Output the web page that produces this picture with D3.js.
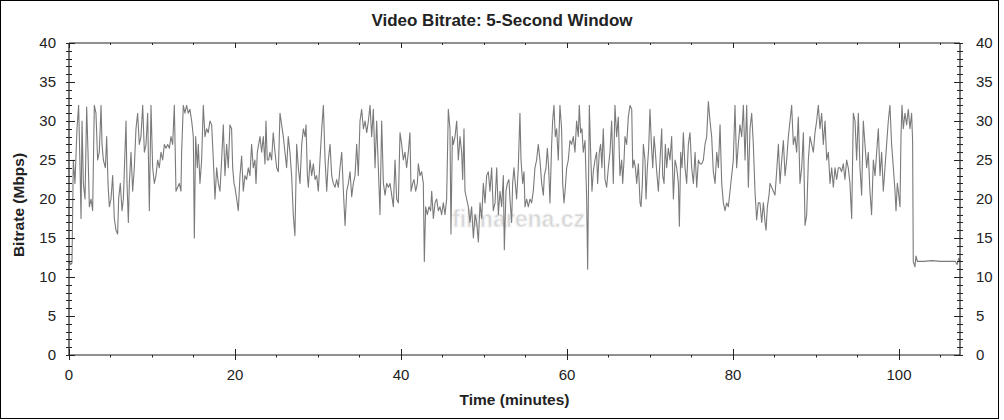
<!DOCTYPE html>
<html>
<head>
<meta charset="utf-8">
<script src="https://cdn.jsdelivr.net/npm/d3@7/dist/d3.min.js"></script>
<style>
html,body{margin:0;padding:0;background:#fff;}
svg{display:block;}
text{font-family:"Liberation Sans",Arial,sans-serif;}
</style>
</head>
<body>
<svg id="chart" width="1004" height="420"></svg>
<script>
// ---- data: [minute, Mbps] ----
const bitrateSamples = [
[0.0,12],[0.2,11.6],[0.36,11.8],[0.52,25],[0.72,22],[0.96,29],[1.16,32],[1.33,24],[1.45,17.5],[1.57,30],[1.73,22],[1.93,20],
[2.13,31.8],[2.29,26],[2.45,19],[2.65,20],[2.85,18.5],[3.05,32],[3.25,31],[3.45,25],[3.65,26],[3.86,32],[3.98,27],[4.14,25],
[4.38,24],[4.54,28],[4.70,22],[4.86,19],[5.06,20],[5.26,23],[5.46,17.5],[5.66,16],[5.86,15.5],[5.98,20],[6.18,22],[6.39,18.5],
[6.55,20],[6.71,25],[6.87,30],[6.99,22],[7.15,17],[7.27,22],[7.47,26],[7.67,21],[7.87,24],[8.07,29],[8.27,31],[8.47,27],
[8.67,28],[8.88,32],[9.08,26],[9.28,27],[9.48,31],[9.68,18.5],[9.88,32],[10.08,24],[10.28,22],[10.48,23],[10.68,25],[10.88,24],
[11.08,26],[11.29,25],[11.49,27],[11.69,26.5],[11.89,27],[12.09,26.5],[12.29,28],[12.49,27],[12.69,32],[12.89,21],[13.09,21.5],
[13.29,22],[13.49,21],[13.57,26],[13.77,32],[13.97,31],[14.17,32],[14.37,31],[14.57,31.5],[14.78,30],[14.98,28],[15.10,15],
[15.26,28],[15.46,24],[15.58,27],[15.78,22],[15.98,25],[16.18,32],[16.38,28],[16.58,29],[16.78,28.5],[16.98,30],[17.19,29.5],
[17.39,25],[17.59,20],[17.79,24],[17.99,22],[18.19,21],[18.39,25],[18.59,29.5],[18.79,23],[18.99,27],[19.19,24],[19.39,29.5],
[19.59,29],[19.72,24],[19.88,22],[20.0,21.5],[20.2,20],[20.4,18.5],[20.6,23],[20.8,25.5],[21.0,21],[21.2,23],[21.4,22.5],
[21.6,24],[21.8,23],[22.0,27],[22.2,24],[22.4,25],[22.53,22],[22.69,26],[22.85,27],[23.01,28],[23.21,26],[23.41,28],[23.61,24.5],
[23.73,30],[23.89,25],[24.05,25],[24.21,26],[24.41,25],[24.61,28.5],[24.82,26],[25.02,24],[25.22,23.5],[25.42,31],[25.62,29.5],
[25.82,28],[26.02,26],[26.22,24],[26.42,28],[26.62,26],[26.82,23],[27.02,18],[27.22,15.3],[27.43,27],[27.63,24],[27.83,22],
[28.04,27],[28.24,29],[28.44,28],[28.56,29.5],[28.72,23],[28.84,21.5],[29.04,25],[29.24,23],[29.44,24.5],[29.64,22.5],[29.84,23],
[30.04,21],[30.24,25],[30.45,29],[30.65,32],[30.85,25],[31.05,21],[31.25,25],[31.45,27],[31.65,23],[31.85,22],[32.05,21.5],
[32.25,22.5],[32.45,21.5],[32.65,24],[32.86,26],[33.06,21],[33.26,16.6],[33.46,21],[33.66,22],[33.86,23.5],[34.06,20.3],
[34.26,22],[34.46,23],[34.66,27],[34.86,23],[35.06,30],[35.26,31.5],[35.47,29],[35.67,30],[35.87,28.5],[36.07,30],[36.27,32],
[36.47,28],[36.67,31.5],[36.87,24],[37.07,30],[37.27,24],[37.47,18],[37.67,30],[37.88,22],[38.08,20.5],[38.28,22],[38.48,21.5],
[38.68,22],[38.88,20.5],[39.08,19],[39.28,25],[39.48,20],[39.68,19.5],[39.88,28.5],[40.08,27],[40.28,25],[40.48,26],[40.68,24],
[40.88,26],[41.08,28.5],[41.21,21],[41.41,22],[41.57,22.5],[41.77,21],[41.97,22],[42.09,24.5],[42.29,23],[42.49,23.5],[42.69,22],
[42.81,12],[42.97,19],[43.17,18],[43.37,19],[43.57,18.5],[43.70,21],[43.90,17.5],[44.10,19.5],[44.30,20],[44.50,18.5],[44.70,19],
[44.90,18],[45.10,19.5],[45.30,18],[45.50,20],[45.70,31.5],[45.90,29],[46.02,15.5],[46.19,28],[46.31,27],[46.51,28],[46.71,30],
[46.91,25],[47.11,28],[47.31,26],[47.43,22.5],[47.59,29],[47.71,21],[47.91,20],[48.11,19],[48.31,17],[48.51,19],[48.72,15],
[48.92,18],[49.12,17],[49.32,14.5],[49.52,19.5],[49.72,17.5],[49.92,22],[50.12,19.5],[50.32,23],[50.52,23.5],[50.72,21],
[50.92,24],[51.12,18.5],[51.33,19.5],[51.53,24],[51.73,18],[51.93,21],[52.13,19],[52.33,23],[52.45,13.5],[52.65,21],[52.81,22],
[53.0,22.5],[53.13,20],[53.33,17],[53.45,22],[53.61,24],[53.73,22.5],[53.93,20],[54.13,24],[54.33,31],[54.46,25],[54.66,22],
[54.82,23.5],[54.94,19],[55.14,20],[55.34,19],[55.54,20],[55.74,19.5],[55.94,21],[56.14,24],[56.34,25],[56.54,27],[56.74,25],
[56.95,22],[57.15,20.5],[57.27,23],[57.47,24],[57.63,26.5],[57.79,24],[57.95,19.5],[58.15,27],[58.27,30],[58.43,32],[58.59,28],
[58.75,29],[58.95,25],[59.15,32],[59.35,29],[59.48,22],[59.64,19.5],[59.80,21.5],[59.96,24],[60.16,25],[60.36,27.5],[60.56,27],
[60.76,28],[60.96,26],[61.16,30],[61.36,28],[61.48,32],[61.64,28.5],[61.80,29],[61.96,26],[62.17,27.5],[62.37,20],[62.49,11],
[62.69,32],[62.85,26],[63.01,21],[63.17,23.5],[63.37,25],[63.57,26],[63.69,22],[63.89,26],[64.05,27],[64.21,24],[64.37,29],
[64.58,22.5],[64.78,21.5],[64.98,24],[65.18,26],[65.38,30],[65.58,22],[65.78,32],[65.98,28],[66.18,30.5],[66.38,23],[66.59,25],
[66.71,22],[66.87,25],[66.99,28],[67.19,27],[67.39,30.5],[67.59,32],[67.80,31.5],[67.92,24],[68.08,25],[68.24,24],[68.40,22],
[68.60,24.5],[68.80,19.5],[68.92,19],[69.08,22],[69.20,27],[69.40,25],[69.52,20],[69.68,24],[69.84,26.5],[70.00,31.5],[70.17,27],
[70.33,24],[70.49,28],[70.65,26],[70.81,23.5],[71.01,21],[71.21,25],[71.41,29],[71.53,23],[71.69,22],[71.85,27],[72.01,24],
[72.21,26.5],[72.41,25],[72.61,28],[72.82,20],[73.02,25],[73.22,24],[73.42,22],[73.54,16.5],[73.70,26],[73.86,24],[74.02,28.5],
[74.22,24],[74.42,22],[74.62,27],[74.82,28.5],[75.02,24],[75.23,22],[75.43,26],[75.63,21.5],[75.83,25],[76.03,24.5],[76.23,24.5],
[76.43,25],[76.63,27],[76.83,28],[77.03,32.5],[77.23,30],[77.43,28],[77.63,23.5],[77.84,22],[78.04,26],[78.24,24],[78.44,29.5],
[78.64,22],[78.84,19.5],[79.04,18.5],[79.24,19.5],[79.44,19],[79.64,21],[79.84,23],[80.04,25],[80.24,32],[80.44,24],[80.64,27],
[80.84,29.5],[81.05,28],[81.25,32],[81.45,25],[81.65,32],[81.85,21.5],[82.05,29],[82.25,31],[82.45,27],[82.65,21],[82.85,17.3],
[83.05,19.5],[83.25,19.5],[83.46,17],[83.66,19.5],[83.86,17],[83.98,16],[84.14,19],[84.34,20.5],[84.46,22],[84.66,21.5],[84.86,21],
[85.06,20.5],[85.26,23.5],[85.47,27],[85.67,22],[85.87,25],[86.07,27.5],[86.27,23],[86.47,25],[86.67,28],[86.87,30],[87.07,32],
[87.27,27],[87.47,28],[87.67,26],[87.87,30.5],[88.07,22],[88.28,24],[88.48,28.5],[88.68,16.6],[88.88,18],[89.08,25],[89.28,28],
[89.48,27],[89.68,26],[89.88,28.5],[90.08,30],[90.28,32],[90.48,29],[90.68,31],[90.88,27],[91.09,30],[91.29,25],[91.49,26],
[91.69,22],[91.89,24],[92.09,21.5],[92.29,24],[92.49,22.5],[92.69,24],[92.89,24],[93.09,23.5],[93.29,24.5],[93.49,22.5],[93.69,25],
[93.89,24],[94.09,22],[94.30,17.5],[94.50,31],[94.70,30],[94.90,25],[95.10,31],[95.30,24],[95.50,20.5],[95.70,30],[95.90,27],
[96.10,24],[96.30,26],[96.50,21],[96.70,18],[96.91,25],[97.11,23],[97.31,26],[97.51,29],[97.71,23],[97.91,26],[98.11,21],
[98.31,24],[98.51,27],[98.71,30],[98.91,32],[99.11,27],[99.32,24],[99.52,21],[99.64,18.5],[99.80,22],[99.92,21],[100.12,19],
[100.24,28],[100.36,32],[100.52,29],[100.72,31],[100.92,29.5],[101.12,31.5],[101.32,29],[101.52,31],[101.64,27.5],[101.72,12],
[101.92,11.3],[102.05,12.7],[102.21,12],[103.0,12],[104.0,12.1],[105.0,12],[106.0,12],[106.8,12],[107.0,11.6],[107.2,12.4],[107.35,12]
];
const yMajorTicks = [0,5,10,15,20,25,30,35,40];
const xMajorTicks = [0,20,40,60,80,100];
const titleText = "Video Bitrate: 5-Second Window";
const xTitle = "Time (minutes)";
const yTitle = "Bitrate (Mbps)";

// ---- layout ----
const plot = {left:69, right:960, top:43, bottom:355};
const svg = d3.select("#chart");

svg.append("rect").attr("x",0.5).attr("y",0.5).attr("width",998).attr("height",418)
  .attr("fill","#fff").attr("stroke","#000").attr("stroke-width",1);

const x = d3.scaleLinear().domain([0,107.35]).range([plot.left, plot.right]);
const y = d3.scaleLinear().domain([0,40]).range([plot.bottom, plot.top]);

const yMinor = d3.range(0,41,1);
const xMinor = d3.range(0,107.35,5);

// watermark (behind the line)
const wm = svg.append("g").attr("opacity",0.7);
wm.append("text").attr("x",452).attr("y",227).attr("font-size",23).attr("font-weight","bold")
  .attr("fill","#c4c4c4").attr("stroke","#eeeeee").attr("stroke-width",1).text("filmarena.cz");

// line
const line = d3.line().x(d=>x(d[0])).y(d=>y(d[1]));
svg.append("path").datum(bitrateSamples).attr("d",line)
  .attr("fill","none").attr("stroke","#7a7a7a").attr("stroke-width",1.1).attr("stroke-linejoin","round");

// axis frame lines
const axCol = "#222";
function hline(yy,x1,x2){svg.append("line").attr("x1",x1).attr("x2",x2).attr("y1",yy).attr("y2",yy).attr("stroke",axCol).attr("stroke-width",1.2);}
function vline(xx,y1,y2){svg.append("line").attr("x1",xx).attr("x2",xx).attr("y1",y1).attr("y2",y2).attr("stroke",axCol).attr("stroke-width",1.2);}
hline(plot.bottom, plot.left, plot.right);
hline(plot.top, plot.left, plot.right);
vline(plot.left, plot.top, plot.bottom);
vline(plot.right, plot.top, plot.bottom);

// y ticks (left and right)
const tg = svg.append("g").attr("stroke",axCol).attr("stroke-width",1);
yMinor.forEach(v=>{
  const yy = Math.round(y(v))+0.5;
  const major = yMajorTicks.includes(v);
  tg.append("line").attr("x1",plot.left-3).attr("x2",plot.left+(major?6:3)).attr("y1",yy).attr("y2",yy);
  tg.append("line").attr("x1",plot.right-(major?6:3)).attr("x2",plot.right+3).attr("y1",yy).attr("y2",yy);
});
// x ticks (bottom and top)
xMinor.forEach(v=>{
  const xx = Math.round(x(v))+0.5;
  const major = xMajorTicks.includes(v);
  if(major){
    tg.append("line").attr("x1",xx).attr("x2",xx).attr("y1",plot.bottom-6).attr("y2",plot.bottom+5);
    tg.append("line").attr("x1",xx).attr("x2",xx).attr("y1",plot.top).attr("y2",plot.top+5);
  } else {
    tg.append("line").attr("x1",xx).attr("x2",xx).attr("y1",plot.bottom).attr("y2",plot.bottom+2.5);
    tg.append("line").attr("x1",xx).attr("x2",xx).attr("y1",plot.top).attr("y2",plot.top+2);
  }
});

// tick labels
const lab = svg.append("g").attr("font-size",15).attr("fill","#222");
yMajorTicks.forEach(v=>{
  lab.append("text").attr("x",56).attr("y",y(v)+4.5).attr("text-anchor","end").text(v);
  lab.append("text").attr("x",976).attr("y",y(v)+4.5).attr("text-anchor","start").text(v);
});
xMajorTicks.forEach(v=>{
  lab.append("text").attr("x",x(v)).attr("y",379.5).attr("text-anchor","middle").text(v);
});

// titles
svg.append("text").attr("x",502).attr("y",26).attr("text-anchor","middle")
  .attr("font-size",17).attr("font-weight","bold").attr("fill","#222").text(titleText);
svg.append("text").attr("x",(plot.left+plot.right)/2).attr("y",405).attr("text-anchor","middle")
  .attr("font-size",15.5).attr("font-weight","bold").attr("fill","#222").text(xTitle);
svg.append("text").attr("transform",`translate(24,${(plot.top+plot.bottom)/2+6}) rotate(-90)`)
  .attr("text-anchor","middle").attr("font-size",15.5).attr("font-weight","bold").attr("fill","#222").text(yTitle);
</script>
</body>
</html>
